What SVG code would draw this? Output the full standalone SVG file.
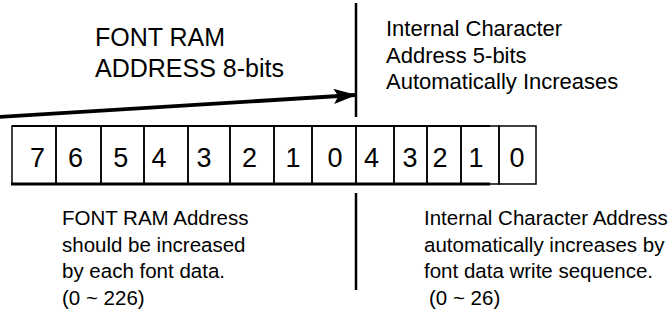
<svg xmlns="http://www.w3.org/2000/svg" width="668" height="320" viewBox="0 0 668 320">
<style>
  .t { font-family: "Liberation Sans", Arial, sans-serif; fill: #000; }
  .big { font-size: 25px; }
  .mid { font-size: 22px; }
  .sm { font-size: 20.5px; }
  .dig { font-size: 27px; text-anchor: middle; }
  .cell { fill: none; stroke: #000; stroke-width: 1.5; }
  .edge { stroke: #000; fill: none; }
</style>
<defs>
  <marker id="ah" markerWidth="6" markerHeight="4" refX="5.6" refY="2" orient="auto" markerUnits="strokeWidth">
    <path d="M0,0 L6,2 L0,4 L1.2,2 Z" fill="#000"/>
  </marker>
</defs>
<rect width="668" height="320" fill="#fff"/>

<g id="label-font-ram">
  <text class="t big" x="95" y="46">FONT RAM</text>
  <text class="t big" x="95" y="77">ADDRESS 8-bits</text>
</g>
<g id="label-internal">
  <text class="t mid" x="386" y="36">Internal Character</text>
  <text class="t mid" x="386" y="63">Address 5-bits</text>
  <text class="t mid" x="386" y="89">Automatically Increases</text>
</g>

<g id="register">
  <g id="cell-f7"><rect class="cell" x="12" y="126" width="44" height="58"/><text class="t dig" x="37.5" y="167">7</text></g>
  <g id="cell-f6"><rect class="cell" x="56" y="126" width="45" height="58"/><text class="t dig" x="75.5" y="167">6</text></g>
  <g id="cell-f5"><rect class="cell" x="101" y="126" width="43" height="58"/><text class="t dig" x="120.8" y="167">5</text></g>
  <g id="cell-f4"><rect class="cell" x="144" y="126" width="44" height="58"/><text class="t dig" x="159" y="167">4</text></g>
  <g id="cell-f3"><rect class="cell" x="188" y="126" width="42" height="58"/><text class="t dig" x="204" y="167">3</text></g>
  <g id="cell-f2"><rect class="cell" x="230" y="126" width="44" height="58"/><text class="t dig" x="249.5" y="167">2</text></g>
  <g id="cell-f1"><rect class="cell" x="274" y="126" width="38" height="58"/><text class="t dig" x="293" y="167">1</text></g>
  <g id="cell-f0"><rect class="cell" x="312" y="126" width="44" height="58"/><text class="t dig" x="335" y="167">0</text></g>
  <g id="cell-c4"><rect class="cell" x="356" y="126" width="38" height="58"/><text class="t dig" x="371.5" y="167">4</text></g>
  <g id="cell-c3"><rect class="cell" x="394" y="126" width="33" height="58"/><text class="t dig" x="410" y="167">3</text></g>
  <g id="cell-c2"><rect class="cell" x="427" y="126" width="34" height="58"/><text class="t dig" x="440" y="167">2</text></g>
  <g id="cell-c1"><rect class="cell" x="461" y="126" width="38" height="58"/><text class="t dig" x="476" y="167">1</text></g>
  <g id="cell-c0"><rect class="cell" x="499" y="126" width="37" height="58"/><text class="t dig" x="517" y="167">0</text></g>
  <line class="edge" x1="12" y1="126" x2="490" y2="126" stroke-width="2"/>
  <line class="edge" x1="11" y1="184" x2="490" y2="184" stroke-width="2.8"/>
</g>

<g id="label-font-ram-desc">
  <text class="t sm" x="62" y="225">FONT RAM Address</text>
  <text class="t sm" x="62" y="252">should be increased</text>
  <text class="t sm" x="62" y="278">by each font data.</text>
  <text class="t sm" x="62" y="305">(0 ~ 226)</text>
</g>
<g id="label-internal-desc">
  <text class="t sm" x="424" y="225">Internal Character Address</text>
  <text class="t sm" x="424" y="252">automatically increases by</text>
  <text class="t sm" x="424" y="278">font data write sequence.</text>
  <text class="t sm" x="429" y="305">(0 ~ 26)</text>
</g>

<g id="connectors">
  <line class="edge" x1="356" y1="3" x2="356" y2="117" stroke-width="2.5"/>
  <line class="edge" x1="356" y1="193" x2="356" y2="290" stroke-width="2.5"/>
  <line class="edge" x1="-2" y1="117" x2="355" y2="95" stroke-width="3.8" marker-end="url(#ah)"/>
</g>
</svg>
